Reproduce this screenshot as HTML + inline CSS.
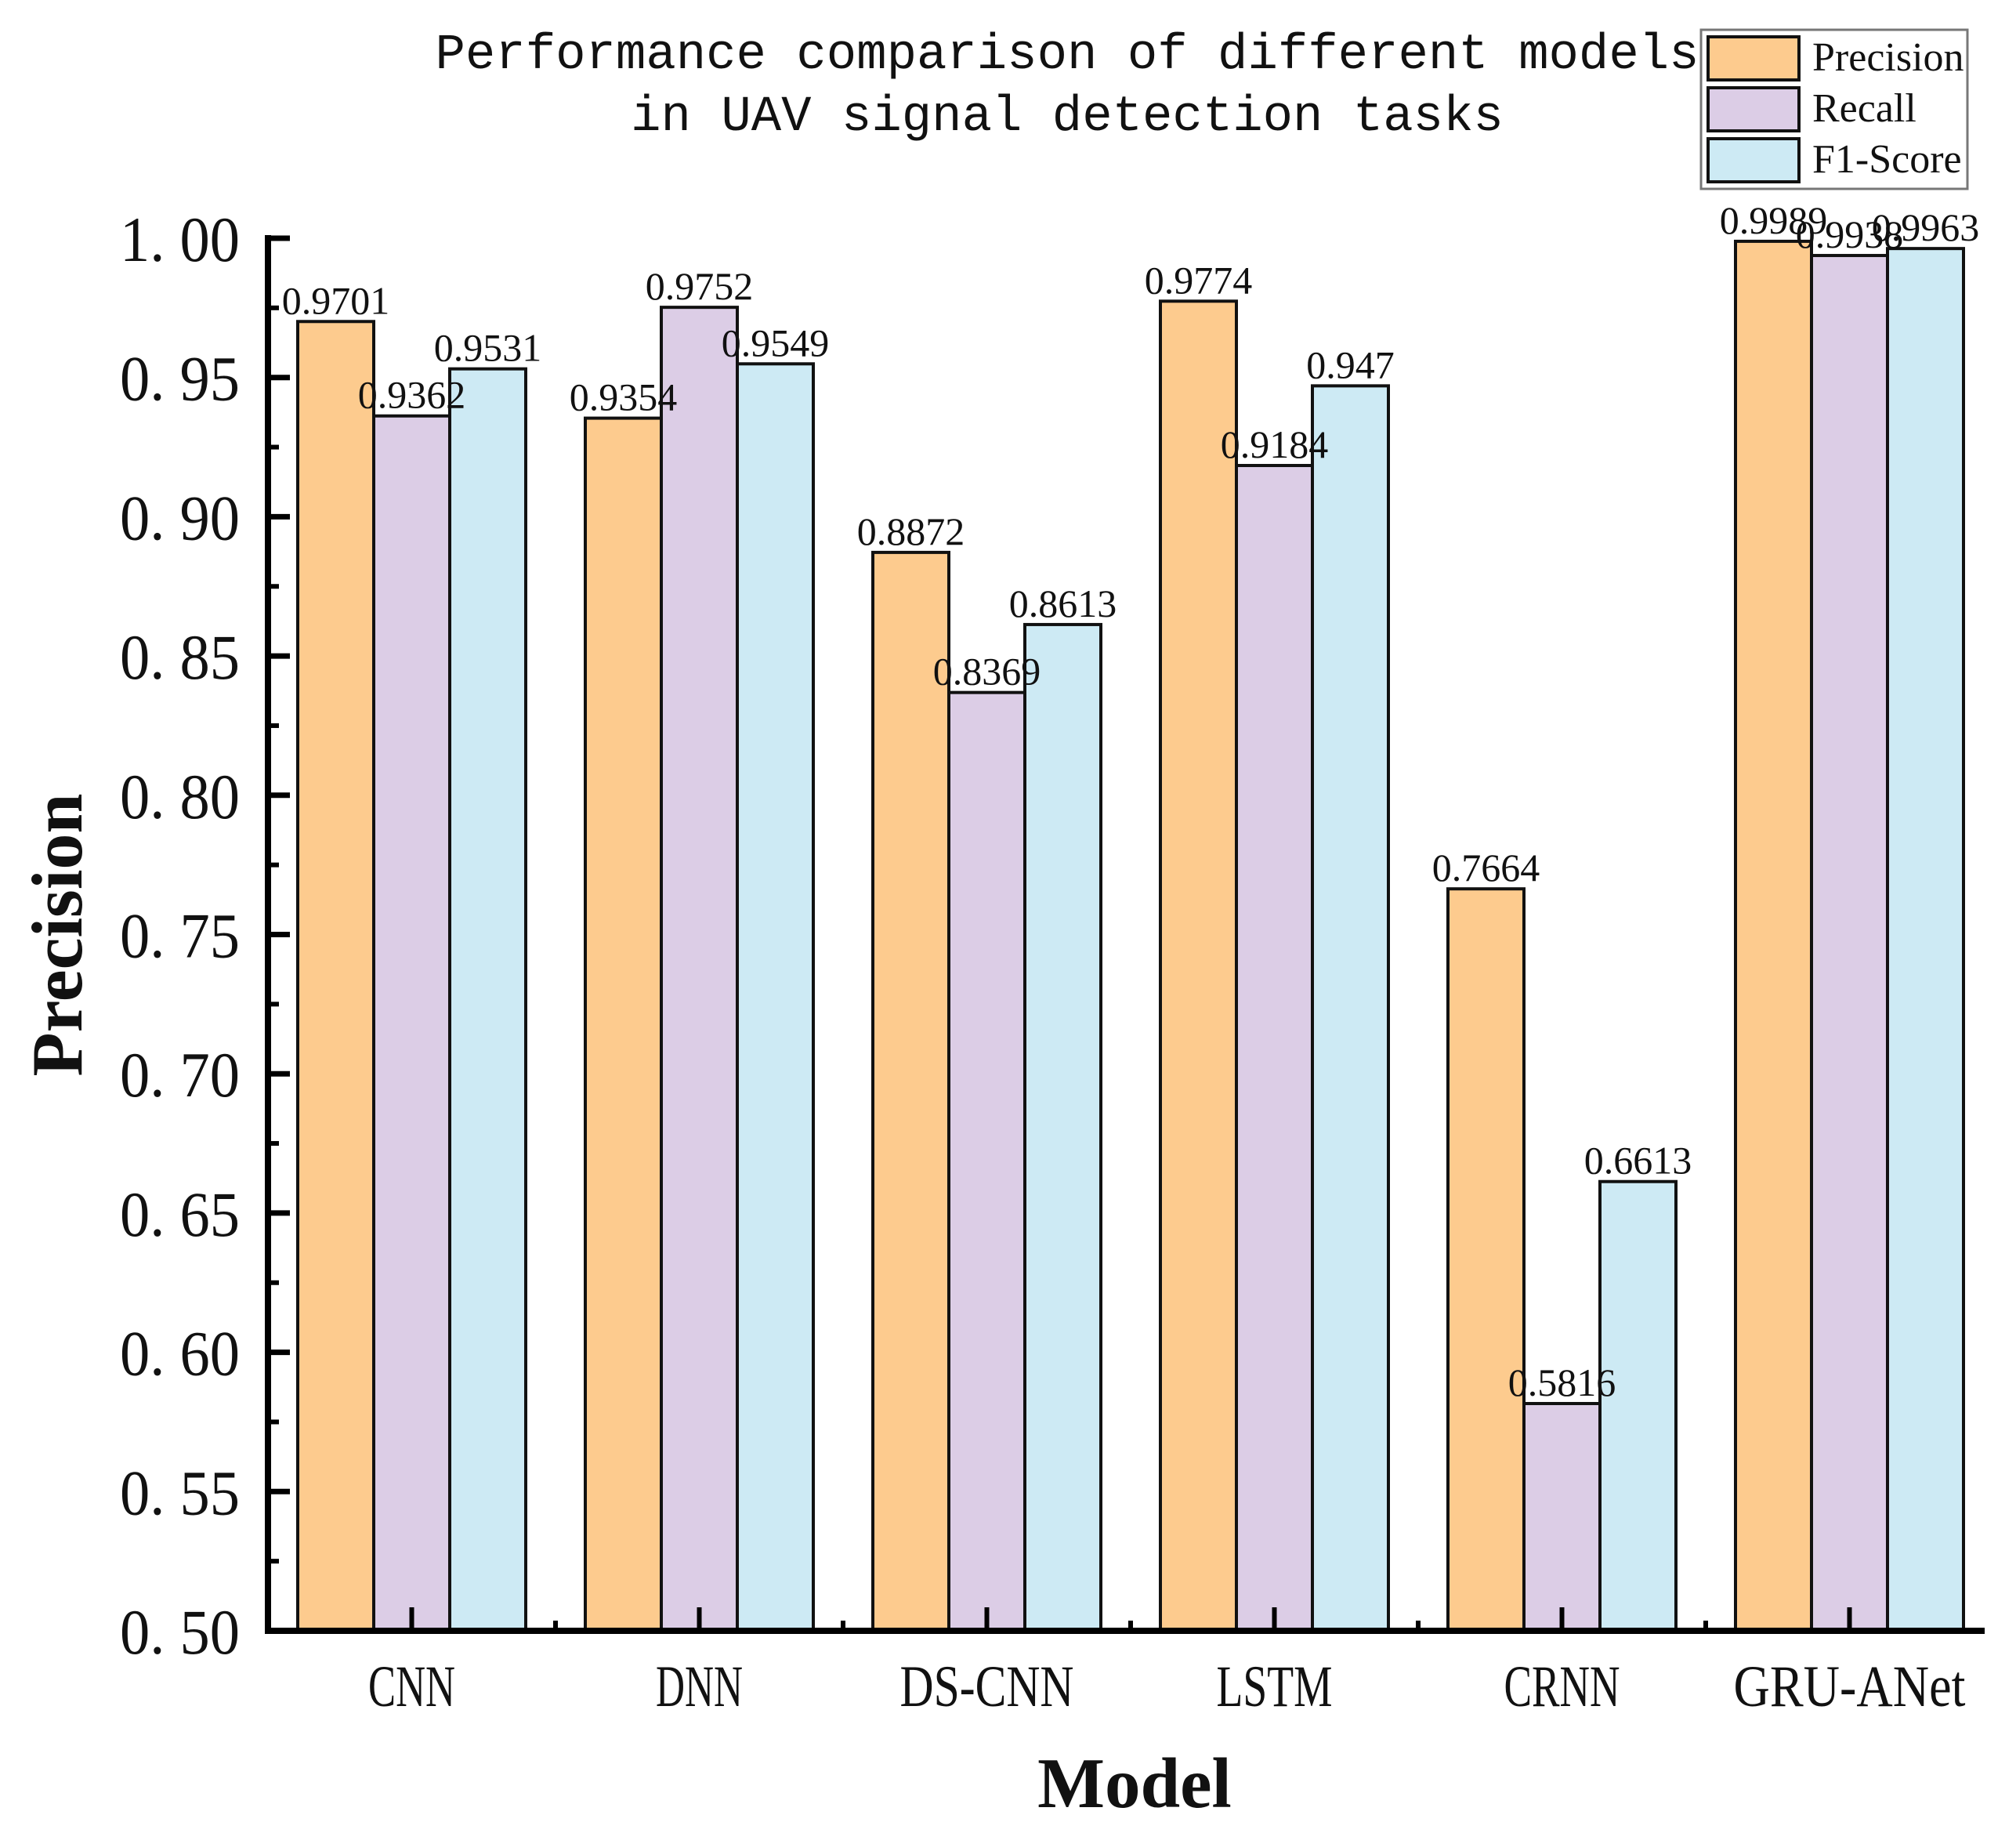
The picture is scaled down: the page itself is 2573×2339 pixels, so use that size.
<!DOCTYPE html>
<html><head><meta charset="utf-8"><style>
html,body{margin:0;padding:0;background:#fff;}
svg{display:block;}
text{font-family:"Liberation Serif",serif;fill:#111;}
</style></head><body>
<svg id="chart" width="2573" height="2339" viewBox="0 0 2573 2339" xmlns="http://www.w3.org/2000/svg">
<g>
<text x="1362" y="87" text-anchor="middle" style="font-family:'Liberation Mono',monospace;font-size:64px;">Performance comparison of different models</text>
<text x="1362" y="166" text-anchor="middle" style="font-family:'Liberation Mono',monospace;font-size:64px;">in UAV signal detection tasks</text>
</g>
<g id="bars"></g>
<g id="labels"></g>
<g id="axes"></g>
<text transform="translate(104,1193) rotate(-90)" text-anchor="middle" style="font-weight:bold;font-size:92px;">Precision</text>
<text x="1448" y="2306" text-anchor="middle" style="font-weight:bold;font-size:91px;">Model</text>
<g>
<rect x="2171" y="38" width="340" height="203" fill="#fff" stroke="#777" stroke-width="3"/>
<g>
<rect x="2180" y="47" width="116" height="55" fill="#fdcb8e" stroke="#111" stroke-width="4"/>
<text x="2313" y="90" style="font-size:52px;">Precision</text></g>
<g>
<rect x="2180" y="112" width="116" height="55" fill="#dccde6" stroke="#111" stroke-width="4"/>
<text x="2313" y="155" style="font-size:52px;">Recall</text></g>
<g>
<rect x="2180" y="177" width="116" height="55" fill="#cdeaf4" stroke="#111" stroke-width="4"/>
<text x="2313" y="220" style="font-size:52px;">F1-Score</text></g>
</g>
</svg>
<script>
const categories = ["CNN","DNN","DS-CNN","LSTM","CRNN","GRU-ANet"];
const precision = [0.9701,0.9354,0.8872,0.9774,0.7664,0.9989];
const recall = [0.9362,0.9752,0.8369,0.9184,0.5816,0.9938];
const f1score = [0.9531,0.9549,0.8613,0.947,0.6613,0.9963];
const seriesNames = ["precision","recall","f1-score"];
const yTicks = [0.50,0.55,0.60,0.65,0.70,0.75,0.80,0.85,0.90,0.95,1.00];
const yTickLabels = ["0. 50","0. 55","0. 60","0. 65","0. 70","0. 75","0. 80","0. 85","0. 90","0. 95","1. 00"];

const NS="http://www.w3.org/2000/svg";
const colors=["#fdcb8e","#dccde6","#cdeaf4"];
const Y0=2081, Y1=304, yMin=0.5, yMax=1.0;
const axisX=342, axisRight=2533;
const groupStart=380, groupStep=367, barW=97;
function y(v){return Y0-(v-yMin)/(yMax-yMin)*(Y0-Y1);}
function gx(i){return groupStart+i*groupStep;}
function mk(tag,attrs,parent){const e=document.createElementNS(NS,tag);for(const k in attrs)e.setAttribute(k,attrs[k]);parent.appendChild(e);return e;}
const bars=document.getElementById('bars'), labels=document.getElementById('labels'), axes=document.getElementById('axes');
const series=[precision,recall,f1score];
series.forEach((vals,s)=>{
  vals.forEach((v,i)=>{
    const x=gx(i)+s*barW;
    const r=mk('rect',{x:x,y:y(v),width:barW,height:Y0-y(v),fill:colors[s],stroke:'#111','stroke-width':4},bars);
    
    
    const t=mk('text',{x:x+barW/2,y:y(v)-10,'text-anchor':'middle','font-size':50},labels);
    t.textContent=String(v);
    
    
  });
});
mk('line',{x1:axisX,y1:Y1-4,x2:axisX,y2:Y0+4,stroke:'#000','stroke-width':8},axes);
mk('line',{x1:axisX-4,y1:Y0,x2:axisRight,y2:Y0,stroke:'#000','stroke-width':8},axes);
yTicks.forEach((v,k)=>{
  mk('line',{x1:axisX,y1:y(v),x2:axisX+28,y2:y(v),stroke:'#000','stroke-width':7},axes);
  if(k<yTicks.length-1){const m=(v+yTicks[k+1])/2;mk('line',{x1:axisX,y1:y(m),x2:axisX+14,y2:y(m),stroke:'#000','stroke-width':6},axes);}
  const t=mk('text',{x:306,y:y(v)+29,'text-anchor':'end','font-size':82,textLength:153,lengthAdjust:'spacingAndGlyphs'},axes);
  t.textContent=yTickLabels[k];
  
  
});
categories.forEach((c,i)=>{
  const cx=gx(i)+1.5*barW;
  mk('line',{x1:cx,y1:Y0,x2:cx,y2:Y0-30,stroke:'#000','stroke-width':6},axes);
  const mx=gx(i)+3*barW+(groupStep-3*barW)/2;
  if(i<categories.length-1) mk('line',{x1:mx,y1:Y0,x2:mx,y2:Y0-13,stroke:'#000','stroke-width':6},axes);
  const w=c.length*37;
  const t=mk('text',{x:cx,y:2177,'text-anchor':'middle','font-size':75,textLength:w,lengthAdjust:'spacingAndGlyphs'},axes);
  t.textContent=c;
  
  
});
</script>
</body></html>
